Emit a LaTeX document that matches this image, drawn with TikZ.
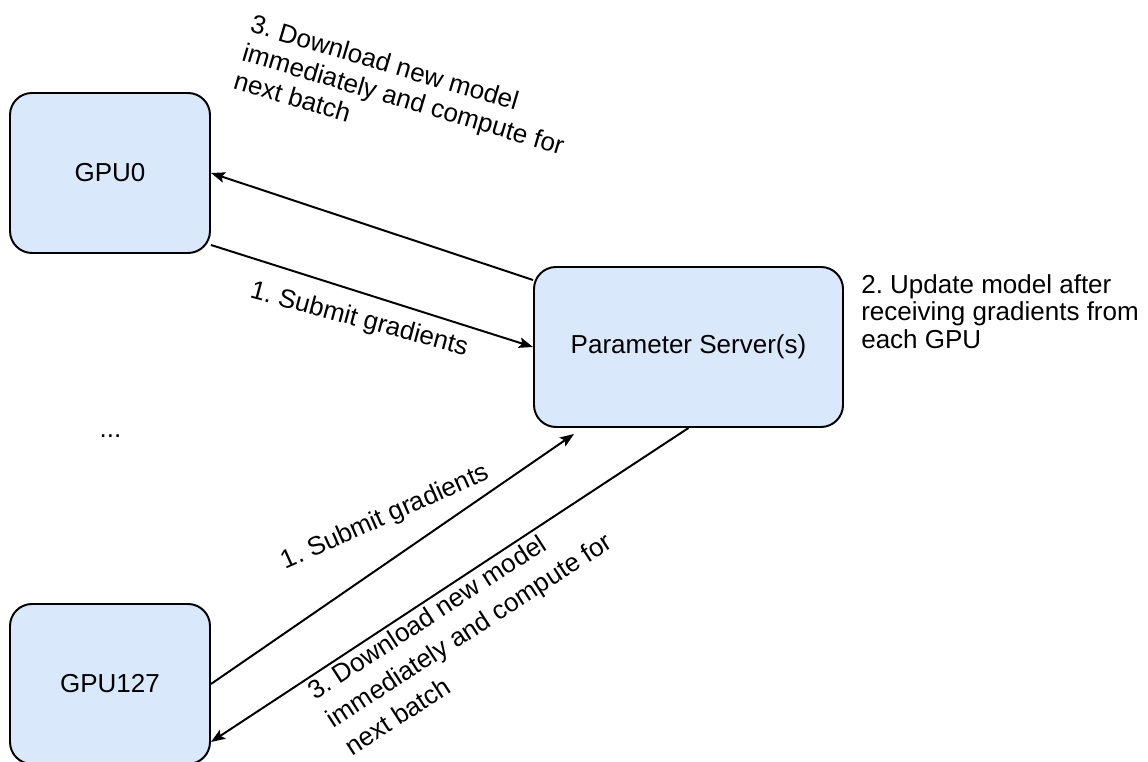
\documentclass[tikz,border=0pt]{standalone}
\usepackage{fontspec}
\setmainfont{Liberation Sans}
\usetikzlibrary{arrows.meta}
\definecolor{boxfill}{HTML}{DAE8FC}
\definecolor{ink}{HTML}{000000}
\frenchspacing

\begin{document}
\begin{tikzpicture}[
    every node/.style={font=\fontsize{18.5}{21}\selectfont, text=ink},
    gpu/.style={rectangle, rounded corners=0.55cm, draw=ink, fill=boxfill,
                line width=1.4pt, minimum width=5cm, minimum height=4cm},
    server/.style={gpu, minimum width=7.725cm},
    lab/.style={align=left, inner sep=0pt},
    arr/.style={-{Stealth[length=10pt, width=7.5pt, inset=2pt]},
                line width=1.4pt, color=ink},
]
\useasboundingbox (0,0) rectangle (28.7,19.025);

% workers and server
\node[gpu] (gpu0) at (2.75, 14.7) {GPU0};
\node[server] (ps) at (17.2125, 10.35) {Parameter Server(s)};
\node[gpu] (gpu127) at (2.75, 1.925) {GPU127};
\node[lab, anchor=base] (dots) at (2.7625, 8.075) {...};

% traffic of GPU0
\draw[arr] ([yshift=1.675cm]ps.west) -- (gpu0.east);
\draw[arr] ([yshift=-1.8cm]gpu0.east) -- (ps.west);

% traffic of GPU127
\draw[arr] (gpu127.east) -- ([xshift=1.025cm, yshift=-0.15cm]ps.south west);
\draw[arr] (ps.south) -- ([yshift=-1.45cm]gpu127.east);

% step labels
\node[lab, rotate=-16.5, anchor=north west] (dltop) at (6.36, 18.69)
    {3. Download new model\\immediately and compute for\\next batch};
\node[lab, rotate=-15, anchor=base west] (subtop) at (6.22, 11.585)
    {1. Submit gradients};
\node[lab, anchor=north west, font=\fontsize{18.5}{19.8}\selectfont] (update)
    at (21.525, 12.175)
    {2. Update model after\\receiving gradients from\\each GPU};
\node[lab, rotate=24, anchor=base west] (subbot) at (7.14, 4.785)
    {1. Submit gradients};
\node[lab, rotate=33, anchor=north west, font=\fontsize{18.5}{24}\selectfont]
    (dlbot) at (7.62, 1.92)
    {3. Download new model\\immediately and compute for\\next batch};
\end{tikzpicture}
\end{document}
